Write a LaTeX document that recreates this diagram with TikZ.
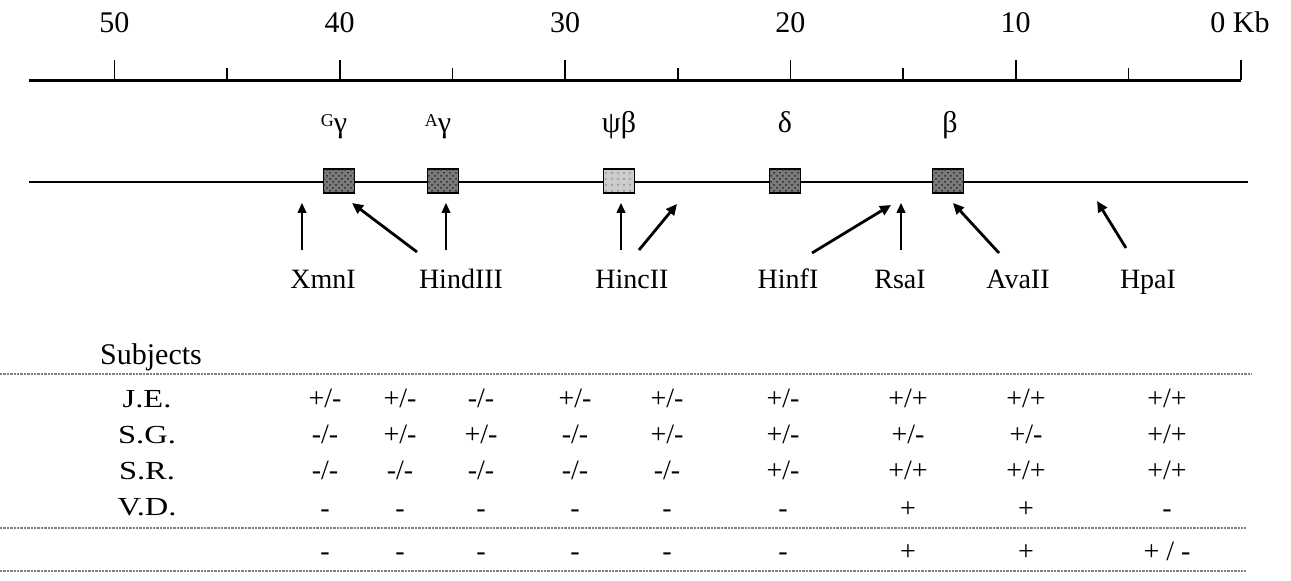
\documentclass[tikz,border=0pt]{standalone}
\usepackage{fontspec}
\setmainfont{Liberation Serif}
\usetikzlibrary{arrows.meta,patterns}
\begin{document}
\begin{tikzpicture}[x=0.5pt,y=-0.5pt,
  axisline/.style={line width=1.4pt},
  tick/.style={line width=0.8pt},
  num/.style={inner sep=0pt,anchor=base,font=\fontsize{15}{17}\selectfont},
  geneline/.style={line width=1pt},
  genebox/.style={draw=black,line width=0.8pt,fill=black!52,minimum width=15.5pt,minimum height=12pt,inner sep=0pt,
     postaction={pattern=crosshatch dots,pattern color=black!85}},
  pseudobox/.style={draw=black,line width=0.8pt,fill=black!20,minimum width=15.5pt,minimum height=12pt,inner sep=0pt,
     postaction={pattern=dots,pattern color=black!45}},
  genelab/.style={inner sep=0pt,anchor=base,font=\fontsize{15}{17}\selectfont},
  enz/.style={inner sep=0pt,anchor=base,font=\fontsize{14}{16}\selectfont},
  thinarrow/.style={line width=0.7pt,-{Triangle[length=5pt,width=4.5pt]}},
  thickarrow/.style={line width=1.4pt,-{Triangle[length=5.5pt,width=5pt]}},
  rowlab/.style={inner sep=0pt,anchor=base,font=\fontsize{13}{15}\selectfont},
  cell/.style={inner sep=0pt,anchor=base,font=\fontsize{14}{16}\selectfont},
  sep/.style={black!50,line width=0.9pt,dash pattern=on 1.2pt off 0.5pt}
]
\useasboundingbox (0,0) rectangle (1291,581);

% ---- scale ----
\coordinate (axL) at (29,80.5);
\coordinate (axR) at (1241,80.5);
\draw[axisline] (axL) -- (axR);
\foreach \x in {114.4,339.7,565.0,790.4,1015.7,1241} \draw[tick] (\x,80.5) -- (\x,60);
\foreach \x in {227.0,452.4,677.7,903.0,1128.4} \draw[tick] (\x,80.5) -- (\x,68);
\node[num] (s50) at (114.4,33) {50};
\node[num] (s40) at (339.7,33) {40};
\node[num] (s30) at (565.0,33) {30};
\node[num] (s20) at (790.4,33) {20};
\node[num] (s10) at (1015.7,33) {10};
\node[num] (s0) at (1240,33) {0 Kb};

% ---- gene line ----
\coordinate (glL) at (29,182);
\coordinate (glR) at (1248,182);
\draw[geneline] (glL) -- (glR);
\node[genebox] (Gg) at (339,181) {};
\node[genebox] (Ag) at (443,181) {};
\node[pseudobox] (pb) at (619,181) {};
\node[genebox] (dl) at (785,181) {};
\node[genebox] (bt) at (948,181) {};
\node[genelab] (lGg) at (334,133) {\raisebox{0.5ex}{\fontsize{9}{10}\selectfont G}γ};
\node[genelab] (lAg) at (438,133) {\raisebox{0.5ex}{\fontsize{9}{10}\selectfont A}γ};
\node[genelab] (lpb) at (619,133) {ψβ};
\node[genelab] (ldl) at (785,133) {δ};
\node[genelab] (lbt) at (950,133) {β};

% ---- enzymes ----
\node[enz] (Xmn) at (323,289) {XmnI};
\node[enz] (Hind) at (461,289) {HindIII};
\node[enz] (Hinc) at (632,289) {HincII};
\node[enz] (Hinf) at (788,289) {HinfI};
\node[enz] (Rsa) at (900,289) {RsaI};
\node[enz] (Ava) at (1018,289) {AvaII};
\node[enz] (Hpa) at (1148,289) {HpaI};

\coordinate (xmT) at (302,250); \coordinate (xmH) at (302,203);
\coordinate (hd1T) at (417,252); \coordinate (hd1H) at (352,203);
\coordinate (hd2T) at (446,250); \coordinate (hd2H) at (446,203);
\coordinate (hc1T) at (621,250); \coordinate (hc1H) at (621,203);
\coordinate (hc2T) at (639,250); \coordinate (hc2H) at (677,204);
\coordinate (hfT) at (812,253); \coordinate (hfH) at (891,205);
\coordinate (rsT) at (901,250); \coordinate (rsH) at (901,203);
\coordinate (avT) at (999,253); \coordinate (avH) at (953,203);
\coordinate (hpT) at (1126,248); \coordinate (hpH) at (1097,201);

\draw[thinarrow] (xmT) -- (xmH);
\draw[thickarrow] (hd1T) -- (hd1H);
\draw[thinarrow] (hd2T) -- (hd2H);
\draw[thinarrow] (hc1T) -- (hc1H);
\draw[thickarrow] (hc2T) -- (hc2H);
\draw[thickarrow] (hfT) -- (hfH);
\draw[thinarrow] (rsT) -- (rsH);
\draw[thickarrow] (avT) -- (avH);
\draw[thickarrow] (hpT) -- (hpH);

% ---- table ----
\node[rowlab,font=\fontsize{15}{17}\selectfont] (subj) at (151,365) {Subjects};
\coordinate (l1L) at (0,374); \coordinate (l1R) at (1252,374);
\coordinate (l2L) at (0,528); \coordinate (l2R) at (1246,528);
\coordinate (l3L) at (0,571); \coordinate (l3R) at (1246,571);
\draw[sep] (l1L) -- (l1R);
\draw[sep] (l2L) -- (l2R);
\draw[sep] (l3L) -- (l3R);

\node[rowlab] (rJE) at (147,408) {\scalebox{1.25}[1]{J.E.}};
\node[rowlab] (rSG) at (147,444) {\scalebox{1.25}[1]{S.G.}};
\node[rowlab] (rSR) at (147,480) {\scalebox{1.25}[1]{S.R.}};
\node[rowlab] (rVD) at (147,516) {\scalebox{1.25}[1]{V.D.}};

\def\tabrow#1#2#3{%
  \foreach \v [count=\i] in {#3} {%
    \pgfmathsetmacro\cx{{325,400,481,575,667,783,908,1026,1167}[\i-1]}%
    \node[cell] (#1-\i) at (\cx,#2) {\v};
  }}
\tabrow{je}{408}{{+/-},{+/-},{-/-},{+/-},{+/-},{+/-},{+/+},{+/+},{+/+}}
\tabrow{sg}{444}{{-/-},{+/-},{+/-},{-/-},{+/-},{+/-},{+/-},{+/-},{+/+}}
\tabrow{sr}{480}{{-/-},{-/-},{-/-},{-/-},{-/-},{+/-},{+/+},{+/+},{+/+}}
\tabrow{vd}{518}{-,-,-,-,-,-,+,+,-}
\tabrow{tot}{561}{-,-,-,-,-,-,+,+,{+ / -}}
\end{tikzpicture}
\end{document}
